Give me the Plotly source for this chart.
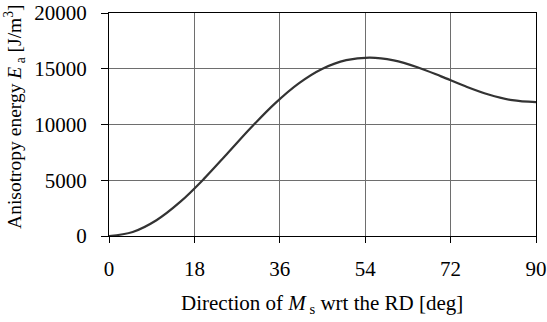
import plotly.graph_objects as go

# Magnetocrystalline anisotropy energy versus the angle of Ms from the rolling direction
angle_deg = [0, 5, 10, 15, 20, 25, 30, 35, 40, 45, 50, 55, 60, 65, 70, 75, 80, 85, 90]
energy = [0, 362, 1415, 3054, 5122, 7425, 9750, 11895, 13687, 15000, 15771,
          15999, 15750, 15138, 14315, 13446, 12691, 12180, 12000]

x_ticks = [0, 18, 36, 54, 72, 90]
y_ticks = [0, 5000, 10000, 15000, 20000]

x_title = "Direction of <i>M</i><sub> s</sub> wrt the RD [deg]"
y_title = "Anisotropy energy <i>E</i><sub> a</sub> [J/m<sup>3</sup>]"

font = dict(family="'Liberation Serif', 'Times New Roman', serif", size=21, color="black")
y_title_font = dict(font, size=19.5)

fig = go.Figure()
fig.add_trace(go.Scatter(
    x=angle_deg, y=energy, mode="lines",
    line=dict(color="#333333", width=2.2, shape="spline", smoothing=1.0),
    showlegend=False, hoverinfo="skip",
))

fig.update_layout(
    template="none",
    width=547, height=322,
    margin=dict(l=109, r=11, t=13, b=86, autoexpand=False),
    paper_bgcolor="white", plot_bgcolor="white",
    font=font,
)

fig.update_xaxes(
    range=[0, 90], tickvals=x_ticks, ticktext=[str(v) for v in x_ticks],
    tickfont=font,
    showgrid=True, gridcolor="#6e6e6e", gridwidth=1,
    showline=True, linecolor="black", linewidth=1, mirror=True,
    ticks="outside", ticklen=6, tickcolor="black",
    ticklabelstandoff=8, zeroline=False, automargin=False,
)
fig.update_yaxes(
    range=[0, 20000], tickvals=y_ticks, ticktext=[str(v) for v in y_ticks],
    tickfont=font,
    showgrid=True, gridcolor="#6e6e6e", gridwidth=1,
    showline=True, linecolor="black", linewidth=1, mirror=True,
    ticks="outside", ticklen=7, tickcolor="black",
    ticklabelstandoff=10, zeroline=False, automargin=False,
)

# Axis titles placed as paper-anchored annotations
fig.add_annotation(
    text=x_title, xref="paper", yref="paper", x=0.498, y=-0.305,
    xanchor="center", yanchor="middle", showarrow=False, font=font,
)
fig.add_annotation(
    text=y_title, xref="paper", yref="paper", x=-0.222, y=0.535,
    xanchor="center", yanchor="middle", textangle=-90, showarrow=False, font=y_title_font,
)

fig.write_html("out.html")
